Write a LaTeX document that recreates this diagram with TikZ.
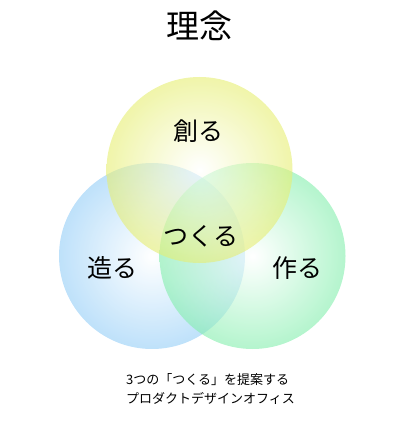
\documentclass[tikz,border=0pt]{standalone}
\usepackage{fontspec}
\setmainfont{Noto Sans CJK JP}
\usepackage{tikz}
\definecolor{yelC}{RGB}{230,238,113}
\definecolor{bluC}{RGB}{147,205,247}
\definecolor{grnC}{RGB}{130,238,172}
\begin{document}
\begin{tikzpicture}[x=1pt,y=-1pt,
    ring/.style={circle,minimum size=186pt,inner sep=0pt,fill opacity=0.6,
      shading=radial,inner color=white,outer color=#1},
    word/.style={font=\fontsize{25}{28}\selectfont}]
            \useasboundingbox (0,0) rectangle (400,422);
            \node at (199,26) (title) {\fontsize{33}{36}\selectfont 理念};

            \node[ring=bluC] (zou) at (152,256) {};
            \node[ring=grnC] (saku) at (252.5,256) {};
            \node[ring=yelC] (sou) at (199.5,170) {};

            \node[word] (souL) at (198,131) {創る};
            \node[word] (zouL) at (112,268) {造る};
            \node[word] (sakuL) at (297,268) {作る};
            \node[word] (tsukuru) at (201,236) {つくる};

            \node[anchor=west,align=left,inner sep=0pt,font=\fontsize{13}{19}\selectfont] (note) at (126,389)
              {3つの「つくる」を提案する\\プロダクトデザインオフィス};
        \end{tikzpicture}
\end{document}
